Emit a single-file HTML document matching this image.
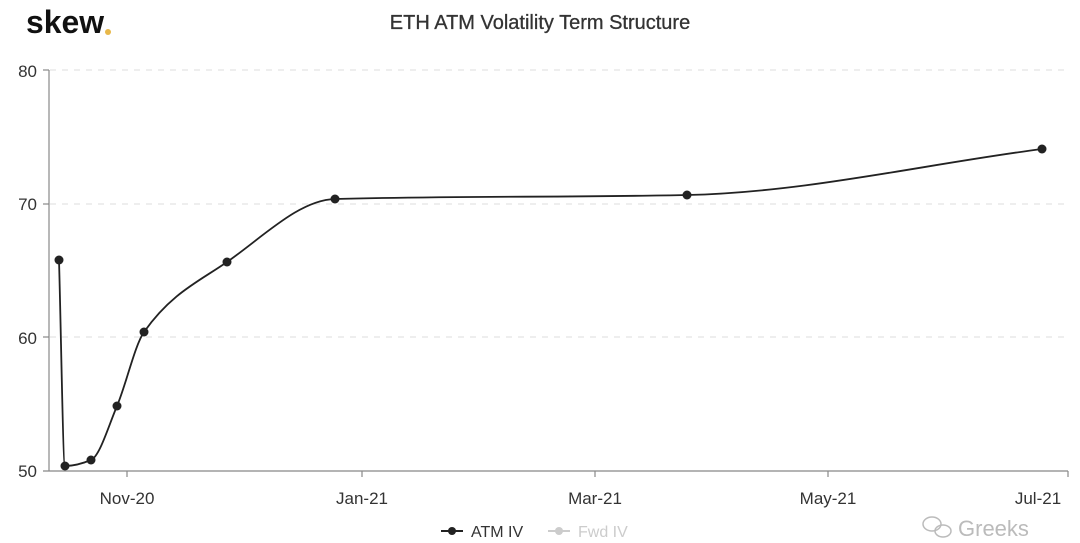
<!DOCTYPE html>
<html><head><meta charset="utf-8"><style>
html,body{margin:0;padding:0;background:#fff;}
svg{display:block;font-family:"Liberation Sans",sans-serif;}
</style></head><body>
<svg width="1080" height="543" viewBox="0 0 1080 543" xmlns="http://www.w3.org/2000/svg">
<text x="26" y="33" font-size="32" font-weight="bold" fill="#111" textLength="78" lengthAdjust="spacingAndGlyphs">skew</text>
<circle cx="108" cy="32" r="3" fill="#e8b84a"/>
<text x="540" y="29" font-size="20" fill="#333" text-anchor="middle" stroke="#333" stroke-width="0.3">ETH ATM Volatility Term Structure</text>
<g stroke="#ddd" stroke-dasharray="6,6" stroke-width="1">
<line x1="50" y1="70" x2="1070" y2="70"/>
<line x1="50" y1="204" x2="1070" y2="204"/>
<line x1="50" y1="337" x2="1070" y2="337"/>
</g>
<g stroke="#888" stroke-width="1.2" fill="none">
<line x1="49" y1="70" x2="49" y2="471"/>
<line x1="43" y1="70" x2="49" y2="70"/>
<line x1="43" y1="204" x2="49" y2="204"/>
<line x1="43" y1="337" x2="49" y2="337"/>
<line x1="43" y1="471" x2="1068" y2="471"/>
<line x1="127" y1="471" x2="127" y2="477"/>
<line x1="362" y1="471" x2="362" y2="477"/>
<line x1="595" y1="471" x2="595" y2="477"/>
<line x1="828" y1="471" x2="828" y2="477"/>
<line x1="1068" y1="471" x2="1068" y2="477"/>
</g>
<g font-size="17" fill="#333" text-anchor="end">
<text x="37" y="77">80</text><text x="37" y="210">70</text><text x="37" y="344">60</text><text x="37" y="477">50</text>
</g>
<g font-size="17" fill="#333" text-anchor="middle">
<text x="127" y="504">Nov-20</text><text x="362" y="504">Jan-21</text><text x="595" y="504">Mar-21</text><text x="828" y="504">May-21</text><text x="1038" y="504">Jul-21</text>
</g>
<path id="curve" fill="none" stroke="#222" stroke-width="1.8"/>
<g id="dots" fill="#222"></g>
<line x1="441" y1="531" x2="463" y2="531" stroke="#222" stroke-width="2"/>
<circle cx="452" cy="531" r="4" fill="#222"/>
<text x="471" y="537" font-size="16" fill="#333">ATM IV</text>
<line x1="548" y1="531" x2="570" y2="531" stroke="#ccc" stroke-width="2"/>
<circle cx="559" cy="531" r="4" fill="#ccc"/>
<text x="578" y="537" font-size="16" fill="#ccc">Fwd IV</text>
<text x="958" y="536" font-size="22" fill="#bbb">Greeks</text>
<g fill="none" stroke="#bbb" stroke-width="1.5"><ellipse cx="932" cy="524" rx="9" ry="7"/><ellipse cx="943" cy="531" rx="8" ry="6"/></g>
</svg>
<script>
var p=[[59,260],[65,466],[91,460],[117,406],[144,332],[227,262],[335,199],[687,195],[1042,149]];
var n=p.length,d=[],m=[];
for(var i=0;i<n-1;i++)d.push((p[i+1][1]-p[i][1])/(p[i+1][0]-p[i][0]));
m[0]=d[0];m[n-1]=d[n-2];
for(var i=1;i<n-1;i++){if(d[i-1]*d[i]<=0)m[i]=0;else{var h0=p[i][0]-p[i-1][0],h1=p[i+1][0]-p[i][0];m[i]=3*(h0+h1)/((2*h1+h0)/d[i-1]+(h1+2*h0)/d[i]);}}
var s="M"+p[0][0]+","+p[0][1];
for(var i=0;i<n-1;i++){var h=(p[i+1][0]-p[i][0])/3;s+=" C"+(p[i][0]+h)+","+(p[i][1]+m[i]*h)+" "+(p[i+1][0]-h)+","+(p[i+1][1]-m[i+1]*h)+" "+p[i+1][0]+","+p[i+1][1];}
document.getElementById("curve").setAttribute("d",s);
var g=document.getElementById("dots"),html="";
p.forEach(function(q){html+='<circle cx="'+q[0]+'" cy="'+q[1]+'" r="4.5"/>';});
g.innerHTML=html;
</script>
</body></html>
